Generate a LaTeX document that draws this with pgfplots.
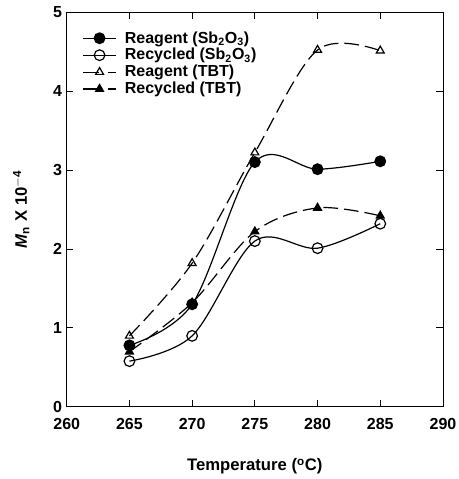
\documentclass[border=0pt]{standalone}
\usepackage{pgfplots}
\pgfplotsset{compat=1.18}
\usepackage{fontspec}
\setmainfont{Liberation Sans}
\pgfplotsset{
  longlegend/.style={legend image code/.code={\draw[##1, solid] (0cm,0cm) -- (0.88cm,0cm); \path[##1] plot coordinates {(0.44cm,0cm)};}},
  longdashlegend/.style={legend image code/.code={\draw[##1, solid] (0cm,0cm) -- (0.42cm,0cm); \draw[##1, solid] (0.66cm,0cm) -- (0.86cm,0cm); \path[##1] plot coordinates {(0.44cm,0cm)};}},
}
\begin{document}
\begin{tikzpicture}
\begin{axis}[
  scale only axis,
  width=282pt, height=296pt,
  xmin=260, xmax=290, ymin=0, ymax=5,
  xtick={260,265,...,290}, ytick={0,1,...,5},
  tick align=inside,
  major tick length=5pt,
  tick style={black, line width=0.7pt},
  axis line style={line width=0.7pt},
  /pgf/number format/assume math mode=true,
  /pgf/number format/1000 sep={},
  xticklabel={\bfseries\pgfmathprintnumber{\tick}},
  yticklabel={\bfseries\pgfmathprintnumber{\tick}},
  tick label style={font=\bfseries\fontsize{12}{14}\selectfont},
  xticklabel style={yshift=-5pt},
  xlabel={\bfseries Temperature (\textsuperscript{o}C)},
  ylabel={\bfseries\textit{M}\textsubscript{n} X 10\textsuperscript{$-$4}},
  label style={font=\bfseries\fontsize{12.5}{15}\selectfont},
  xlabel style={yshift=-15pt},
  ylabel style={yshift=11pt},
  legend style={draw=none, fill=none, at={(0.03,0.965)}, anchor=north west, font=\bfseries\fontsize{12}{14}\selectfont, row sep=-1.5pt},
  legend cell align=left,
  every axis plot/.append style={line width=0.9pt, black},
]
\addplot[smooth, tension=0.55, mark=*, mark size=4pt, mark options={solid, fill=black}, longlegend]
  coordinates {(265,0.78) (270,1.30) (275,3.10) (280,3.01) (285,3.11)};
\addlegendentry{\hspace{4pt}Reagent (Sb\textsubscript{2}O\textsubscript{3})}
\addplot[smooth, tension=0.55, mark=o, mark size=4pt, mark options={solid, fill=white}, longlegend]
  coordinates {(265,0.58) (270,0.90) (275,2.10) (280,2.01) (285,2.32)};
\addlegendentry{\hspace{4pt}Recycled (Sb\textsubscript{2}O\textsubscript{3})}
\addplot[smooth, tension=0.55, dash pattern=on 11pt off 4.5pt, mark=triangle, mark size=3.4pt, mark options={solid, fill=white}, longdashlegend]
  coordinates {(265,0.90) (270,1.82) (275,3.22) (280,4.52) (285,4.51)};
\addlegendentry{\hspace{4pt}Reagent (TBT)}
\addplot[smooth, tension=0.55, dash pattern=on 11pt off 4.5pt, mark=triangle*, mark size=3.4pt, mark options={solid, fill=black}, longdashlegend]
  coordinates {(265,0.70) (270,1.32) (275,2.22) (280,2.52) (285,2.42)};
\addlegendentry{\hspace{4pt}Recycled (TBT)}
\end{axis}
\pgfresetboundingbox
\path[use as bounding box] ([shift={(-50pt,-54pt)}]current axis.south west) rectangle ([shift={(12pt,9pt)}]current axis.north east);
\end{tikzpicture}
\end{document}
